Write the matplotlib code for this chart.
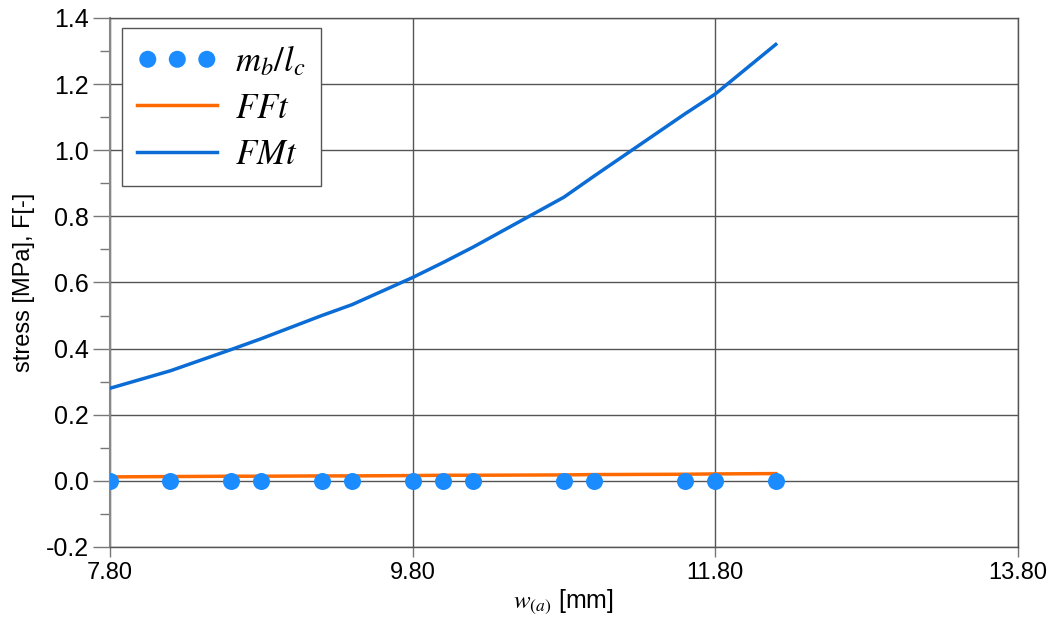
import matplotlib
matplotlib.use("Agg")
import matplotlib.pyplot as plt
from matplotlib.ticker import MultipleLocator, FixedLocator

plt.rcParams['mathtext.fontset'] = 'stix'
plt.rcParams['font.family'] = ['Liberation Sans', 'DejaVu Sans']

w = [7.8, 8.2, 8.6, 8.8, 9.2, 9.4, 9.8, 10.0, 10.2, 10.8, 11.0, 11.6, 11.8, 12.2]
mb_lc = [0.0] * len(w)
FFt = [0.012, 0.013, 0.014, 0.014, 0.015, 0.015, 0.016, 0.017, 0.017, 0.018, 0.019, 0.020, 0.021, 0.022]
FMt = [0.28, 0.333, 0.397, 0.43, 0.50, 0.533, 0.615, 0.66, 0.707, 0.858, 0.922, 1.11, 1.17, 1.32]

xticks = [7.8, 9.8, 11.8, 13.8]
xticklabels = ["7.80", "9.80", "11.80", "13.80"]
yticks = [-0.2, 0.0, 0.2, 0.4, 0.6, 0.8, 1.0, 1.2, 1.4]
yticklabels = ["-0.2", "0.0", "0.2", "0.4", "0.6", "0.8", "1.0", "1.2", "1.4"]

fig = plt.figure(figsize=(10.57, 6.35), dpi=100)
ax = fig.add_axes([0.104, 0.1386, 0.859, 0.8331])

ax.plot(w, FMt, color='#0a6cd4', lw=2.5, label='$FMt$', zorder=3)
ax.plot(w, FFt, color='#ff6a00', lw=2.5, label='$FFt$', zorder=4)
ax.scatter(w, mb_lc, s=150, color='#1a8cff', label='$m_b/l_c$', zorder=5, linewidths=0)

ax.set_xlim(7.8, 13.8)
ax.set_ylim(-0.2, 1.4)
ax.xaxis.set_major_locator(FixedLocator(xticks))
ax.set_xticklabels(xticklabels)
ax.set_yticks(yticks)
ax.set_yticklabels(yticklabels)
ax.yaxis.set_minor_locator(MultipleLocator(0.1))

ax.grid(True, which='major', color='#555555', lw=1.0)
ax.tick_params(axis='y', which='major', length=12, width=1, color='#777777', labelsize=18, pad=3)
ax.tick_params(axis='y', which='minor', length=7, width=1, color='#777777')
ax.tick_params(axis='x', which='major', length=7, width=1, color='#777777', labelsize=17, pad=4)
for s in ['top', 'right', 'bottom']:
    ax.spines[s].set_color('#555555')
    ax.spines[s].set_linewidth(1.0)
ax.spines['left'].set_color('#888888')
ax.spines['left'].set_linewidth(1.5)

ax.set_ylabel('stress [MPa], F[-]', fontsize=17, labelpad=8)
ax.set_xlabel('$w_{(a)}$ [mm]', fontsize=18, labelpad=2)

handles, labels = ax.get_legend_handles_labels()
order = [2, 1, 0]
leg = ax.legend([handles[i] for i in order], [labels[i] for i in order],
                loc='upper left', bbox_to_anchor=(0.013, 0.981), borderaxespad=0,
                fontsize=25, scatterpoints=3, scatteryoffsets=[0.5],
                fancybox=False, framealpha=1, edgecolor='#555555',
                handlelength=2.3, borderpad=0.45, labelspacing=0.38, handletextpad=0.5)
leg.get_frame().set_linewidth(1.0)

fig.savefig('out.png', dpi=100)
